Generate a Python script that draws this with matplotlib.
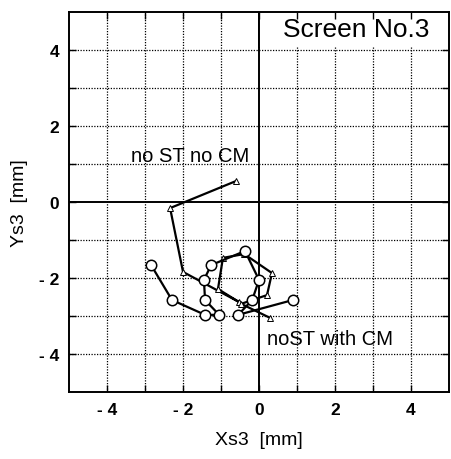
import matplotlib
matplotlib.use("Agg")
import matplotlib.pyplot as plt
from matplotlib.patches import Rectangle

plt.rcParams['font.family'] = ['Liberation Sans', 'DejaVu Sans']

# no ST no CM (triangles)
tri_x = [-0.61, -2.34, -2.00, -0.53, -1.08, -0.95, -0.39, 0.34, 0.21, -0.47, 0.29]
tri_y = [0.55, -0.16, -1.84, -2.63, -2.29, -1.47, -1.37, -1.87, -2.45, -2.68, -3.05]

# noST with CM (circles)
cir_x = [-2.84, -2.29, -1.42, -1.05, -1.42, -1.45, -1.26, -0.37, 0.00, -0.18, -0.55, 0.89]
cir_y = [-1.66, -2.58, -2.97, -2.97, -2.58, -2.05, -1.66, -1.29, -2.05, -2.58, -2.97, -2.58]

ticks = [-4, -3, -2, -1, 0, 1, 2, 3, 4]
tick_labels = ['- 4', '', '- 2', '', '0', '', '2', '', '4']

fig = plt.figure(figsize=(4.51, 4.60), dpi=100)
ax = fig.add_axes([0.153, 0.1457, 0.8427, 0.826])
ax.set_xlim(-5, 5)
ax.set_ylim(-5, 5)

for t in ticks:
    if t != 0:
        ax.axvline(t, color='black', lw=0.9, ls=(0, (1, 1.2)), zorder=0.5)
        ax.axhline(t, color='black', lw=0.9, ls=(0, (1, 1.2)), zorder=0.5)
ax.axvline(0, color='black', lw=1.4, zorder=0.6)
ax.axhline(0, color='black', lw=1.4, zorder=0.6)

ax.add_patch(Rectangle((0, 4.08), 5, 0.92, facecolor='white', edgecolor='none', zorder=1))
ax.plot([0, 0], [4.08, 5], color='black', lw=1.4, zorder=1.1)
ax.text(2.55, 4.55, 'Screen No.3', ha='center', va='center', fontsize=19, zorder=3)

ax.plot(tri_x, tri_y, color='black', lw=1.6, marker='^', markersize=5,
        markerfacecolor='white', markeredgecolor='black', markeredgewidth=0.7, zorder=3)
ax.plot(cir_x, cir_y, color='black', lw=1.6, marker='o', markersize=7.5,
        markerfacecolor='white', markeredgecolor='black', markeredgewidth=1.1, zorder=4)

ax.text(-1.82, 1.22, 'no ST no CM', ha='center', va='center', fontsize=14.5, zorder=5)
ax.text(0.22, -3.58, 'noST with CM', ha='left', va='center', fontsize=14.5, zorder=5)

ax.set_xticks(ticks)
ax.set_xticklabels(tick_labels, fontweight='bold')
ax.set_yticks(ticks)
ax.set_yticklabels(tick_labels, fontweight='bold')
ax.tick_params(direction='in', length=5, width=1, top=True, right=True,
               labelsize=12.5, pad=7)
for s in ax.spines.values():
    s.set_linewidth(1.4)

ax.set_xlabel('Xs3  [mm]', fontsize=14, labelpad=10)
ax.set_ylabel('Ys3  [mm]', fontsize=14, labelpad=8)

fig.savefig('out.png', dpi=100)
